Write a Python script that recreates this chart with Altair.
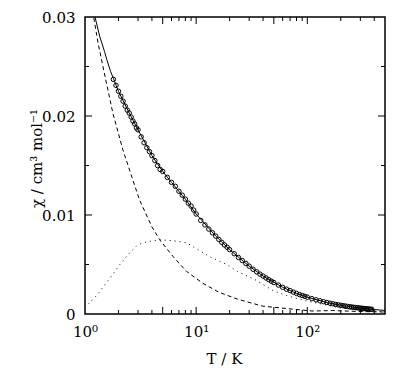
import altair as alt
import pandas as pd

# measured susceptibility (circles)
data_T = [1.8, 1.9, 2.0, 2.1, 2.2, 2.3, 2.4, 2.5, 2.6, 2.7, 2.8, 2.9, 3.0, 3.2, 3.4, 3.6, 3.8, 4.0,
          4.25, 4.5, 4.75, 5.0, 5.5, 6.0, 6.5, 7.0, 7.5, 8.0, 8.5, 9.0, 9.5, 10, 11, 12, 13, 14, 15,
          16, 17, 18, 19, 20, 22, 24, 26, 28, 30, 32.5, 35, 37.5, 40, 42.5, 45, 47.5, 50, 55, 60,
          65, 70, 75, 80, 85, 90, 95, 100, 110, 120, 130, 140, 150, 160, 170, 180, 190, 200, 210,
          220, 230, 240, 250, 260, 270, 280, 290, 300, 310, 320, 330, 340, 350, 360, 370, 380]
data_chi = [0.0237, 0.0231, 0.0225, 0.0220, 0.0215, 0.0210, 0.0206, 0.0203, 0.0199, 0.0195, 0.0192,
            0.0188, 0.0186, 0.0179, 0.0173, 0.0168, 0.0164, 0.0160, 0.0155, 0.0150, 0.0146, 0.0144,
            0.0138, 0.0133, 0.0129, 0.0124, 0.0120, 0.0116, 0.0112, 0.0109, 0.0105, 0.0101,
            0.00945, 0.0090, 0.00858, 0.00821, 0.00787, 0.00753, 0.00724, 0.00697, 0.00674, 0.0065,
            0.00609, 0.00571, 0.0054, 0.00511, 0.00483, 0.00452, 0.00426, 0.00403, 0.00383,
            0.00364, 0.00347, 0.00331, 0.00318, 0.00292, 0.0027, 0.00251, 0.00236, 0.00221,
            0.00208, 0.00196, 0.00187, 0.00178, 0.0017, 0.00155, 0.00143, 0.00133, 0.00124,
            0.00116, 0.00109, 0.00103, 0.00097, 0.00092, 0.00088, 0.00084, 0.0008, 0.000767,
            0.000735, 0.000706, 0.000679, 0.000655, 0.000632, 0.000611, 0.000593, 0.000575,
            0.000557, 0.00054, 0.000524, 0.00051, 0.000496, 0.000483, 0.00047]

# total fit (solid)
fit_T = [1.15, 1.23, 1.36, 1.5, 1.57, 1.7, 1.8, 2.0, 2.5, 3.0, 4.0, 5.0, 6.0, 8.0, 10, 15, 20,
         30, 40, 60, 80, 100, 150, 200, 300, 400, 500]
fit_chi = [0.0312, 0.0300, 0.0280, 0.0265, 0.0257, 0.0245, 0.0238, 0.0225, 0.0203, 0.0186, 0.0160,
           0.0144, 0.0133, 0.0116, 0.0101, 0.00787, 0.0065, 0.00483, 0.00383, 0.0027, 0.00208,
           0.0017, 0.00116, 0.00088, 0.000593, 0.00045, 0.00036]

# component 1 (dashed)
dash_T = [1.12, 1.2, 1.31, 1.45, 1.61, 1.78, 2.19, 2.7, 3.1, 4.0, 4.7, 6.2, 8.2, 11.5, 16, 23.5,
          39.5, 48, 110, 168, 300, 500]
dash_chi = [0.0320, 0.0299, 0.0274, 0.0250, 0.0226, 0.0203, 0.0166, 0.0135, 0.0115, 0.0088,
            0.0075, 0.0058, 0.0043, 0.0031, 0.0022, 0.0015, 0.0008, 0.0007, 0.0003, 0.00035,
            0.00025, 0.0002]

# component 2 (dotted)
dot_T = [1.07, 1.28, 1.67, 2.06, 2.53, 2.99, 3.6, 4.7, 6.2, 8.2, 9.7, 13.2, 18.8, 23.5, 34.8,
         48.5, 60, 73, 100, 150, 200, 300, 400, 500]
dot_chi = [0.0010, 0.0019, 0.0036, 0.0050, 0.0062, 0.0070, 0.0073, 0.0075, 0.0074, 0.0072, 0.0067,
           0.0058, 0.0050, 0.0043, 0.0034, 0.0024, 0.0020, 0.0017, 0.0013, 0.0009, 0.0006,
           0.0004, 0.0003, 0.00025]

x_long = [5, 10, 50, 100]
x_short = [2, 3, 4, 6, 7, 8, 9, 20, 30, 40, 60, 70, 80, 90, 200, 300, 400]
y_long = [0.01, 0.02]
y_short = [0.005, 0.015, 0.025]

W, H = 300, 297
FONT = "DejaVu Serif"

xs = alt.Scale(type="log", domain=[1, 500], nice=False)
ys = alt.Scale(domain=[0, 0.03], nice=False, zero=False)

x_axis = alt.Axis(values=[1, 10, 100], ticks=False, grid=False, domain=False, labelFlush=False,
                  labelExpr="datum.value == 1 ? '10⁰' : datum.value == 10 ? '10¹' : '10²'",
                  labelPadding=10, labelFontSize=15, labelFont=FONT, labelColor="black",
                  title="T / K", titleFont=FONT, titleFontSize=15, titleFontWeight="normal",
                  titleColor="black", titleX=139, titleY=44, titleBaseline="middle")
y_axis = alt.Axis(values=[0, 0.01, 0.02, 0.03], ticks=False, grid=False, domain=False,
                  labelFlush=False,
                  labelExpr="datum.value == 0 ? '0' : format(datum.value, '.2f')",
                  labelPadding=10, labelFontSize=15, labelFont=FONT, labelColor="black",
                  title="χ / cm³ mol⁻¹", titleFont=FONT, titleFontSize=15,
                  titleFontWeight="normal", titleColor="black", titleX=-49, titleY=141,
                  titleBaseline="middle")

df_data = pd.DataFrame({"T": data_T, "chi": data_chi})
df_fit = pd.DataFrame({"T": fit_T, "chi": fit_chi})
df_dash = pd.DataFrame({"T": dash_T, "chi": dash_chi})
df_dot = pd.DataFrame({"T": dot_T, "chi": dot_chi})

fit = alt.Chart(df_fit).mark_line(color="black", strokeWidth=1, clip=True).encode(
    x=alt.X("T:Q", scale=xs, axis=x_axis), y=alt.Y("chi:Q", scale=ys, axis=y_axis))
dash = alt.Chart(df_dash).mark_line(color="black", strokeWidth=1, strokeDash=[4, 3], clip=True).encode(
    x=alt.X("T:Q", scale=xs), y=alt.Y("chi:Q", scale=ys))
dot = alt.Chart(df_dot).mark_line(color="black", strokeWidth=1, strokeDash=[1, 4], clip=True).encode(
    x=alt.X("T:Q", scale=xs), y=alt.Y("chi:Q", scale=ys))
pts = alt.Chart(df_data).mark_point(shape="circle", filled=False, color="black", size=20,
                                    strokeWidth=1, opacity=1, clip=True).encode(
    x=alt.X("T:Q", scale=xs), y=alt.Y("chi:Q", scale=ys))

def xticks(vals, length):
    d = pd.DataFrame({"T": vals})
    b = alt.Chart(d).mark_rule(color="black", strokeWidth=1).encode(
        x=alt.X("T:Q", scale=xs), y=alt.value(H), y2=alt.value(H - length))
    t = alt.Chart(d).mark_rule(color="black", strokeWidth=1).encode(
        x=alt.X("T:Q", scale=xs), y=alt.value(0), y2=alt.value(length))
    return [b, t]

def yticks(vals, length):
    d = pd.DataFrame({"chi": vals})
    l = alt.Chart(d).mark_rule(color="black", strokeWidth=1).encode(
        y=alt.Y("chi:Q", scale=ys), x=alt.value(0), x2=alt.value(length))
    r = alt.Chart(d).mark_rule(color="black", strokeWidth=1).encode(
        y=alt.Y("chi:Q", scale=ys), x=alt.value(W), x2=alt.value(W - length))
    return [l, r]

layers = [fit, dash, dot, pts] + xticks(x_long, 7) + xticks(x_short, 4) + \
    yticks(y_long, 7) + yticks(y_short, 4)

chart = alt.layer(*layers).properties(
    width=W, height=H,
    autosize=alt.AutoSizeParams(type="none"),
    padding={"left": 77, "top": 9, "right": 4, "bottom": 56},
    background="white",
).configure_view(stroke="black", strokeWidth=1.5)

chart.save("out.html", embed_options={"renderer": "svg", "actions": False})
